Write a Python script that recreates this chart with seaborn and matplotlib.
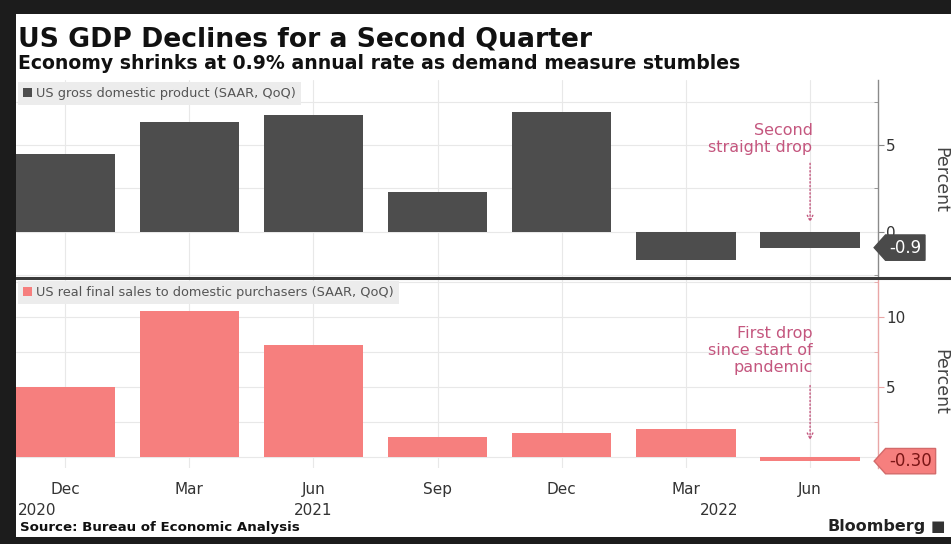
"""Recreate Bloomberg 'US GDP Declines for a Second Quarter' two-panel bar chart."""

import matplotlib
matplotlib.use("Agg")

import matplotlib.pyplot as plt
import numpy as np
import pandas as pd
import seaborn as sns
from matplotlib.lines import Line2D
from matplotlib.patches import Patch, Rectangle
from matplotlib.path import Path
from matplotlib.ticker import FuncFormatter, MultipleLocator

# --- data -----------------------------------------------------------------
quarters = ["2020Q4", "2021Q1", "2021Q2", "2021Q3", "2021Q4", "2022Q1", "2022Q2"]
month_labels = ["Dec", "Mar", "Jun", "Sep", "Dec", "Mar", "Jun"]
gdp = [4.5, 6.3, 6.7, 2.3, 6.9, -1.6, -0.9]
final_sales = [5.0, 10.4, 8.0, 1.4, 1.7, 2.0, -0.30]
years = ["2020", "2021", "2022"]

W, H = 951, 544
_DARK = "#4d4d4d"
_PINK = "#f67f7e"
_NOTE = "#c4567e"
_GRID = "#e8e8e8"
_TEXT = "#333333"


def px_box(left, top, right, bottom):
    return [left / W, 1 - bottom / H, (right - left) / W, (bottom - top) / H]


def tag_box(x0, y0, width, height, mutation_size):
    pad = mutation_size * 0.22
    x0, y0 = x0 - pad, y0 - pad
    x1, y1 = x0 + width + 2 * pad, y0 + height + 2 * pad
    ym = (y0 + y1) / 2
    tip = (y1 - y0) * 0.45
    verts = [(x0, y0), (x1, y0), (x1, y1), (x0, y1), (x0 - tip, ym), (x0, y0)]
    return Path(verts, closed=True)


def style_panel(ax, spine_color, ylim):
    ax.set_xlim(-0.395, 6.547)
    ax.set_ylim(*ylim)
    ax.set_facecolor("white")
    for side in ("left", "top", "bottom"):
        ax.spines[side].set_visible(False)
    ax.spines["right"].set_color(spine_color)
    ax.spines["right"].set_linewidth(1.0)
    ax.yaxis.tick_right()
    ax.yaxis.set_major_locator(MultipleLocator(5))
    ax.yaxis.set_minor_locator(MultipleLocator(2.5))
    ax.tick_params(axis="y", which="major", length=4, color=spine_color,
                   labelsize=11, labelcolor=_TEXT, pad=2)
    ax.tick_params(axis="y", which="minor", length=3, direction="in",
                   color=spine_color)
    ax.grid(axis="y", which="both", color=_GRID, linewidth=0.8)
    ax.grid(axis="x", color=_GRID, linewidth=0.8)
    ax.set_axisbelow(True)
    ax.set_xlabel("")
    ax.set_ylabel("")


df = pd.DataFrame({"quarter": quarters, "gdp": gdp, "sales": final_sales})

sns.set_style("white")
plt.rcParams["font.family"] = ["DejaVu Sans"]

fig = plt.figure(figsize=(W / 100, H / 100), dpi=100)
fig.patch.set_facecolor("white")

ax1 = fig.add_axes(px_box(16, 80, 878, 277))
ax2 = fig.add_axes(px_box(16, 279, 878, 468))

sns.barplot(data=df, x="quarter", y="gdp", color=_DARK, saturation=1,
            width=0.8, ax=ax1, edgecolor="none")
sns.barplot(data=df, x="quarter", y="sales", color=_PINK, saturation=1,
            width=0.8, ax=ax2, edgecolor="none")

style_panel(ax1, "#8a8a8a", (-2.59, 8.74))
style_panel(ax2, "#e9a6a6", (-0.79, 12.71))

ax1.tick_params(axis="x", length=0, labelbottom=False)
ax2.set_xticks(range(len(quarters)))
ax2.set_xticklabels(month_labels)
ax2.tick_params(axis="x", length=6, color=_GRID, labelsize=11,
                labelcolor=_TEXT, pad=4)
ax2.yaxis.set_major_formatter(FuncFormatter(lambda v, p: "" if v <= 0 else f"{v:g}"))

# year labels under the month ticks
xt = ax2.get_xaxis_transform()
ax2.text(-0.38, -0.225, years[0], transform=xt, ha="left", va="center",
         fontsize=11, color=_TEXT)
ax2.text(2, -0.225, years[1], transform=xt, ha="center", va="center",
         fontsize=11, color=_TEXT)
ax2.text(5.42, -0.225, years[2], transform=xt, ha="right", va="center",
         fontsize=11, color=_TEXT)

# legends
for ax, color, label in [
    (ax1, _DARK, "US gross domestic product (SAAR, QoQ)"),
    (ax2, _PINK, "US real final sales to domestic purchasers (SAAR, QoQ)"),
]:
    leg = ax.legend(handles=[Patch(facecolor=color, edgecolor="none")],
                    labels=[label], loc="upper left", fontsize=9.3,
                    frameon=True, fancybox=False, handlelength=0.7,
                    handleheight=0.7, handletextpad=0.3, borderpad=0.4,
                    borderaxespad=0.15)
    leg.get_frame().set_facecolor("#ececec")
    leg.get_frame().set_edgecolor("none")
    leg.get_frame().set_alpha(1)
    for t in leg.get_texts():
        t.set_color("#555555")

# annotations
ax1.text(6.02, 4.45, "Second\nstraight drop", ha="right", va="bottom",
         fontsize=11.5, color=_NOTE, linespacing=1.15)
ax1.annotate("", xy=(6, 0.55), xytext=(6, 3.95),
             arrowprops=dict(arrowstyle="->", color=_NOTE, linestyle=":",
                             linewidth=1.0, shrinkA=0, shrinkB=0))
ax2.text(6.02, 5.85, "First drop\nsince start of\npandemic", ha="right",
         va="bottom", fontsize=11.5, color=_NOTE, linespacing=1.15)
ax2.annotate("", xy=(6, 1.2), xytext=(6, 5.1),
             arrowprops=dict(arrowstyle="->", color=_NOTE, linestyle=":",
                             linewidth=1.0, shrinkA=0, shrinkB=0))

# last-value tags on the right axis
ax1.text(1.013, gdp[-1], f"{gdp[-1]:.1f}", transform=ax1.get_yaxis_transform(),
         ha="left", va="center", fontsize=12, color="white", clip_on=False,
         zorder=5, bbox=dict(boxstyle=tag_box, facecolor="#4a4a4a",
                             edgecolor="#4a4a4a"))
ax2.text(1.013, final_sales[-1], f"{final_sales[-1]:.2f}",
         transform=ax2.get_yaxis_transform(), ha="left", va="center",
         fontsize=12, color="#7a1515", clip_on=False, zorder=5,
         bbox=dict(boxstyle=tag_box, facecolor=_PINK, edgecolor="#d36a6a"))

# "Percent" axis titles
fig.text(940 / W, 1 - 180 / H, "Percent", rotation=270, ha="center",
         va="center", fontsize=12.5, color="#444444")
fig.text(940 / W, 1 - 382 / H, "Percent", rotation=270, ha="center",
         va="center", fontsize=12.5, color="#444444")

# titles and footer
fig.text(18 / W, 1 - 46 / H, "US GDP Declines for a Second Quarter",
         ha="left", va="baseline", fontsize=19.2, fontweight="bold", color="#111111")
fig.text(18 / W, 1 - 69 / H,
         "Economy shrinks at 0.9% annual rate as demand measure stumbles",
         ha="left", va="baseline", fontsize=13.6, fontweight="bold", color="#111111")
fig.text(20 / W, 1 - 531 / H, "Source: Bureau of Economic Analysis",
         ha="left", va="baseline", fontsize=9.6, fontweight="bold", color="#111111")
fig.text(926 / W, 1 - 531 / H, "Bloomberg", ha="right", va="baseline",
         fontsize=11.5, fontweight="bold", color="#222222")
fig.text(938 / W, 1 - 531 / H, "■", ha="center", va="baseline",
         fontsize=11, color="#333333")

# separator and dark frame
fig.add_artist(Line2D([16 / W, 1], [1 - 277.5 / H] * 2, color="#3a3a3a",
                      linewidth=2.2, transform=fig.transFigure))
for (x, y, w, h) in [(0, 0, W, 14), (0, 0, 16, H), (0, 537, W, 7)]:
    fig.add_artist(Rectangle((x / W, 1 - (y + h) / H), w / W, h / H,
                             transform=fig.transFigure, facecolor="#1c1c1c",
                             edgecolor="none", zorder=10))

fig.savefig("out.png", dpi=100, facecolor="white")
plt.close(fig)
